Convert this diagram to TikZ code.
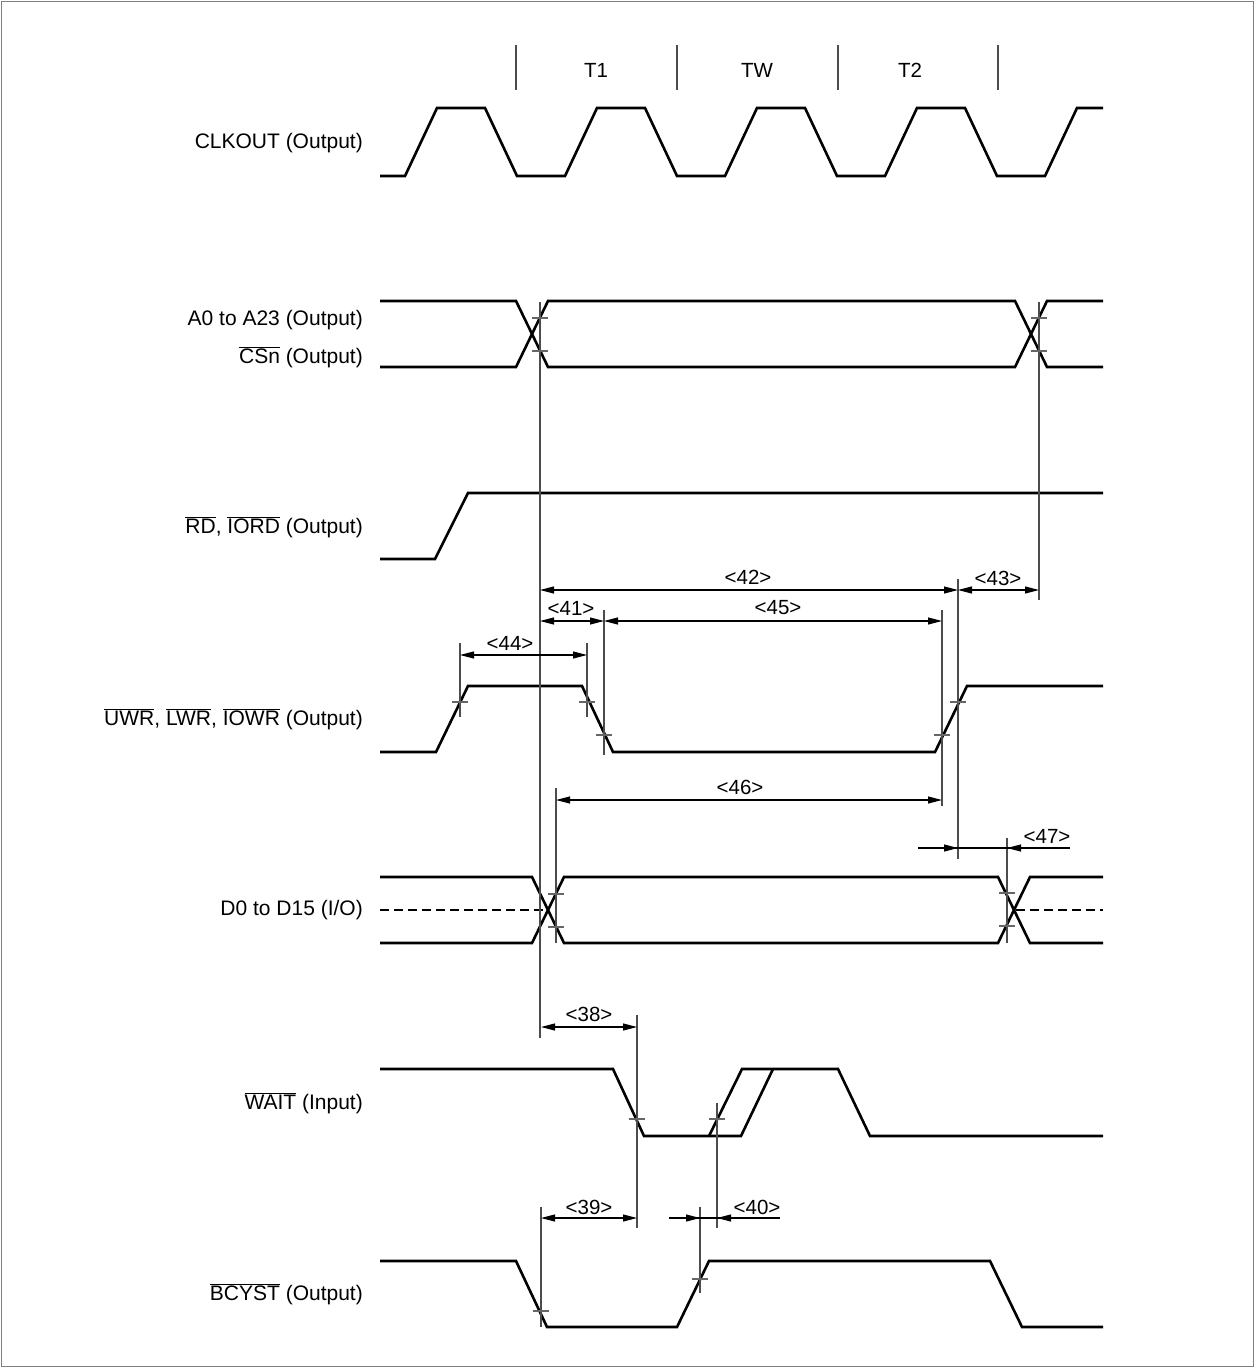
\documentclass[tikz,border=0pt]{standalone}
\usepackage{fontspec}
\setmainfont{Liberation Sans}
\usetikzlibrary{arrows.meta}
\newcommand\ovl[1]{\ensuremath{\overline{\mbox{#1}}}}
\begin{document}
\begin{tikzpicture}[x=1pt,y=-1pt,
  sig/.style={line width=2.6pt},
  thin/.style={line width=1.1pt,black!70},
  tickm/.style={line width=1.1pt,black!60},
  dim/.style={line width=1.1pt,black,{Triangle[length=14pt,width=7pt]}-{Triangle[length=14pt,width=7pt]}},
  arr/.style={line width=1.1pt,black,-{Triangle[length=14pt,width=7pt]}},
  lab/.style={anchor=east,inner sep=0pt,font=\fontsize{21}{25}\selectfont},
  dlab/.style={inner sep=0pt,font=\fontsize{20.5}{24}\selectfont}]
\useasboundingbox (0,0) rectangle (1254,1367);
\draw[black!50,line width=1pt] (1,1.5) rectangle (1253,1366);
% T markers
\foreach \x in {516,677,838,998} \draw[thin] (\x,45) -- (\x,90);
\node[dlab] (t1) at (596,70) {T1};
\node[dlab] (tw) at (757,70) {TW};
\node[dlab] (t2) at (910,70) {T2};
% labels
\node[lab] (lclk) at (363,143) {CLKOUT (Output)};
\node[lab] (la) at (363,320) {A0 to A23 (Output)};
\node[lab] (lcs) at (363,357) {\ovl{CSn} (Output)};
\node[lab] (lrd) at (363,527) {\ovl{RD}, \ovl{IORD} (Output)};
\node[lab] (lwr) at (363,719) {\ovl{UWR}, \ovl{LWR}, \ovl{IOWR} (Output)};
\node[lab] (ld) at (363,910) {D0 to D15 (I/O)};
\node[lab] (lw) at (363,1103) {\ovl{WAIT} (Input)};
\node[lab] (lb) at (363,1294) {\ovl{BCYST} (Output)};
% CLKOUT
\draw[sig] (380,176) -- (405,176) -- (437,108) -- (485,108) -- (517,176)
  -- (565,176) -- (597,108) -- (645,108) -- (677,176)
  -- (725,176) -- (757,108) -- (805,108) -- (837,176)
  -- (885,176) -- (917,108) -- (965,108) -- (997,176)
  -- (1045,176) -- (1077,108) -- (1103,108);
% Address
\draw[sig] (380,301) -- (516,301) -- (548,367) -- (1015,367) -- (1047,301) -- (1103,301);
\draw[sig] (380,367) -- (516,367) -- (548,301) -- (1015,301) -- (1047,367) -- (1103,367);
% RD
\draw[sig] (380,559) -- (435,559) -- (468,493) -- (1103,493);
% UWR
\draw[sig] (380,752) -- (436,752) -- (468,686) -- (582,686) -- (613,752) -- (935,752) -- (967,686) -- (1103,686);
% D0
\draw[sig] (380,877) -- (532,877) -- (564,943) -- (998,943) -- (1030,877) -- (1103,877);
\draw[sig] (380,943) -- (532,943) -- (564,877) -- (998,877) -- (1030,943) -- (1103,943);
\draw[sig,dash pattern=on 9pt off 5pt] (380,910) -- (546,910);
\draw[sig,dash pattern=on 9pt off 5pt] (1016,910) -- (1103,910);
% WAIT
\draw[sig] (380,1069) -- (613,1069) -- (644,1136) -- (741,1136) -- (773,1069);
\draw[sig] (709,1136) -- (742,1069) -- (838,1069) -- (870,1136) -- (1103,1136);
% BCYST
\draw[sig] (380,1261) -- (516,1261) -- (547,1327) -- (677,1327) -- (709,1261) -- (990,1261) -- (1022,1327) -- (1103,1327);
% extension lines
\draw[thin] (540,302) -- (540,1038);
\draw[thin] (1039,302) -- (1039,600);
\draw[thin] (958,579) -- (958,859);
\draw[thin] (942,610) -- (942,806);
\draw[thin] (604,610) -- (604,755);
\draw[thin] (460,643) -- (460,717);
\draw[thin] (587,643) -- (587,717);
\draw[thin] (556,788) -- (556,943);
\draw[thin] (1007,838) -- (1007,943);
\draw[thin] (637,1015) -- (637,1228);
\draw[thin] (717,1103) -- (717,1228);
\draw[thin] (541,1207) -- (541,1327);
\draw[thin] (700,1207) -- (700,1293);
% threshold ticks
\foreach \x/\y in {540/318,540/351,1039/318,1039/351,460/702,587/702,604/735,942/735,958/702,
  556/894,556/927,1007/893,1007/926,637/1119,717/1119,541/1311,700/1279}
  \draw[tickm] (\x,\y) ++(-8,0) -- ++(16,0);
% dimensions
\draw[dim] (540,590) -- (958,590);
\node[dlab] (d42) at (748,577) {<42>};
\draw[dim] (958,590) -- (1039,590);
\node[dlab] (d43) at (998,578) {<43>};
\draw[dim] (540,621) -- (604,621);
\node[dlab] (d41) at (571,608) {<41>};
\draw[dim] (604,621) -- (942,621);
\node[dlab] (d45) at (778,608) {<45>};
\draw[dim] (460,655) -- (587,655);
\node[dlab] (d44) at (510,643) {<44>};
\draw[dim] (556,800) -- (942,800);
\node[dlab] (d46) at (740,787) {<46>};
\draw[line width=1.1pt] (918,848) -- (1070,848);
\draw[arr] (918,848) -- (958,848);
\draw[arr] (1070,848) -- (1007,848);
\node[dlab] (d47) at (1047,836) {<47>};
\draw[dim] (541,1027) -- (637,1027);
\node[dlab] (d38) at (589,1014) {<38>};
\draw[dim] (541,1218) -- (637,1218);
\node[dlab] (d39) at (589,1207) {<39>};
\draw[line width=1.1pt] (669,1218) -- (780,1218);
\draw[arr] (669,1218) -- (700,1218);
\draw[arr] (780,1218) -- (717,1218);
\node[dlab] (d40) at (757,1207) {<40>};
\end{tikzpicture}
\end{document}
